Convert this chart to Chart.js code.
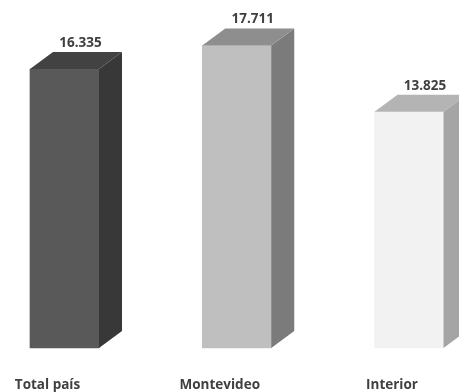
<!DOCTYPE html>
<html>
<head>
<meta charset="utf-8">
<script src="https://cdn.jsdelivr.net/npm/chart.js@4"></script>
<style>
  html, body { margin: 0; padding: 0; background: #ffffff; }
  #wrap { width: 459px; height: 392px; position: relative; }
</style>
</head>
<body>
<div id="wrap"><canvas id="c"></canvas></div>
<script>
// Categories and values (thousands, shown with "." as decimal separator)
const categories = ['Total país', 'Montevideo', 'Interior'];
const values = [16.335, 17.711, 13.825];

// Face colours per bar: front, side, top
const frontColors = ['#595959', '#bfbfbf', '#f2f2f2'];
const sideColors = ['#383838', '#7b7b7b', '#a5a5a5'];
const topColors = ['#424242', '#8e8e8e', '#b4b4b4'];

const DEPTH_X = 23;
const DEPTH_Y = 17;

// Draws the depth faces, value labels and category names
const box3d = {
  id: 'box3d',
  afterDatasetsDraw(chart) {
    const ctx = chart.ctx;
    const meta = chart.getDatasetMeta(0);
    ctx.save();
    meta.data.forEach((bar, i) => {
      const { x, y, base, width } = bar.getProps(['x', 'y', 'base', 'width'], true);
      const l = x - width / 2, r = x + width / 2;
      // side face
      ctx.fillStyle = sideColors[i];
      ctx.beginPath();
      ctx.moveTo(r, y);
      ctx.lineTo(r + DEPTH_X, y - DEPTH_Y);
      ctx.lineTo(r + DEPTH_X, base - DEPTH_Y);
      ctx.lineTo(r, base);
      ctx.closePath();
      ctx.fill();
      // top face
      ctx.fillStyle = topColors[i];
      ctx.beginPath();
      ctx.moveTo(l, y);
      ctx.lineTo(l + DEPTH_X, y - DEPTH_Y);
      ctx.lineTo(r + DEPTH_X, y - DEPTH_Y);
      ctx.lineTo(r, y);
      ctx.closePath();
      ctx.fill();
      // value label
      ctx.fillStyle = '#404040';
      ctx.font = 'bold 13.5px "Open Sans", sans-serif';
      ctx.textAlign = 'center';
      ctx.textBaseline = 'middle';
      ctx.fillText(values[i].toFixed(3), x + 16, y - DEPTH_Y - 9);
      // category name
      ctx.font = 'bold 13.5px "Open Sans", sans-serif';
      ctx.fillText(categories[i], x - 17, 385);
    });
    ctx.restore();
  }
};

new Chart(document.getElementById('c'), {
  type: 'bar',
  data: {
    labels: categories,
    datasets: [{
      data: values,
      backgroundColor: frontColors,
      borderWidth: 0,
      barThickness: 69,
      clip: false
    }]
  },
  options: {
    responsive: true,
    maintainAspectRatio: false,
    animation: false,
    layout: { padding: { left: 64.5, right: 50, top: 6.4, bottom: 44 } },
    plugins: { legend: { display: false }, tooltip: { enabled: false } },
    scales: {
      x: { display: false, offset: false },
      y: { display: false, min: 0, max: 20 }
    }
  },
  plugins: [box3d]
});
</script>
</body>
</html>
